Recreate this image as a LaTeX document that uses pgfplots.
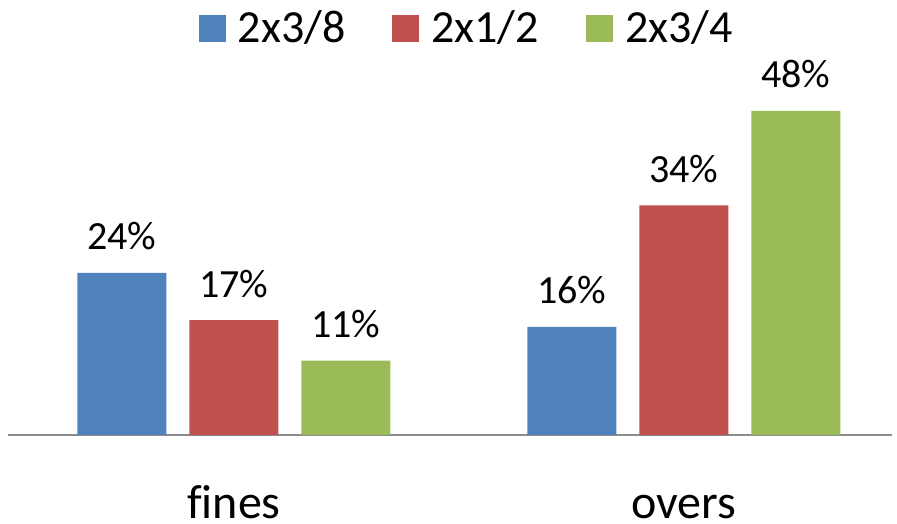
\documentclass[border=0pt]{standalone}
\usepackage{pgfplots}
\pgfplotsset{compat=1.18}
\usepackage{fontspec}
\setmainfont{Carlito}[Ligatures=CommonOff]
\definecolor{cblue}{HTML}{4F81BD}
\definecolor{cred}{HTML}{C0504D}
\definecolor{cgreen}{HTML}{9BBB59}
\definecolor{caxis}{HTML}{8C8C8C}
\begin{document}
\begin{tikzpicture}
\useasboundingbox (-8pt,-89pt) rectangle (889pt,435pt);
\begin{axis}[
  x=450pt, y=6.75pt,
  xmin=-0.5022, xmax=1.4633,
  ymin=0, ymax=64.44,
  ybar=23pt, bar width=89pt,
  axis y line=none,
  axis x line=bottom,
  x axis line style={-, draw=caxis, line width=2pt},
  xtick={0,1}, xticklabels={fines, overs},
  xtick style={draw=none},
  ytick=\empty,
  xticklabel style={font=\fontsize{48}{56}\selectfont, anchor=base, yshift=-81pt, inner sep=0pt},
  clip=false,
  /pgf/number format/assume math mode=true,
  nodes near coords={\pgfmathprintnumber{\pgfplotspointmeta}\%},
  every node near coord/.append style={font=\fontsize{40}{48}\selectfont, anchor=base, yshift=23pt, inner sep=0pt, text=black},
  legend columns=3,
  legend style={at={(axis description cs:0.5175,0.976)}, anchor=north, draw=none, fill=none,
    font=\fontsize{46}{54}\selectfont, inner sep=0pt,
    nodes={inner xsep=0pt, inner ysep=0pt},
    /tikz/every odd column/.append style={column sep=12pt},
    /tikz/every even column/.append style={column sep=47pt}},
  legend image code/.code={\fill[#1,draw=none] (0pt,-14.5pt) rectangle (27pt,12.5pt);},
]
\addplot[fill=cblue, draw=none] coordinates {(0,24) (1,16)};
\addplot[fill=cred, draw=none] coordinates {(0,17) (1,34)};
\addplot[fill=cgreen, draw=none] coordinates {(0,11) (1,48)};
\legend{2x3/8, 2x1/2, 2x3/4}
\end{axis}
\end{tikzpicture}
\end{document}
